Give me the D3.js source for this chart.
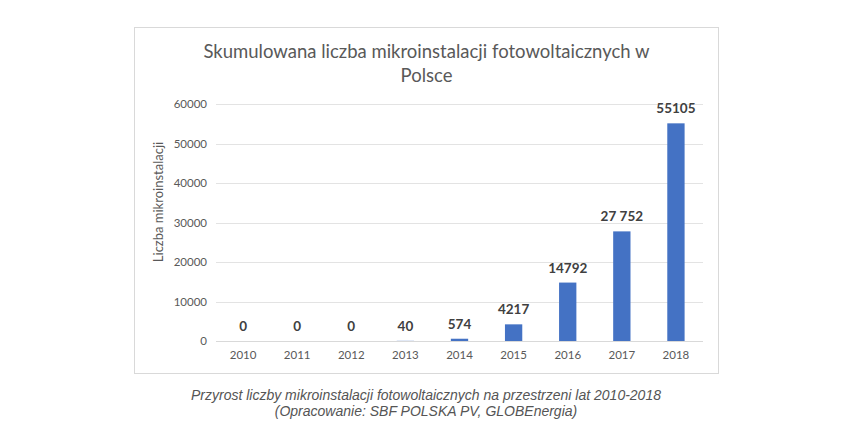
<!DOCTYPE html>
<html><head><meta charset="utf-8">
<script src="https://cdn.jsdelivr.net/npm/d3@7"></script>
<style>body{margin:0;background:#fff;}svg{display:block;}</style>
</head><body>
<svg id="c" width="852" height="447"></svg>
<script>
const years = ["2010","2011","2012","2013","2014","2015","2016","2017","2018"];
const values = [0,0,0,40,574,4217,14792,27752,55105];
const valueLabels = ["0","0","0","40","574","4217","14792","27 752","55105"];
const yTicks = [0,10000,20000,30000,40000,50000,60000];
const titleLines = ["Skumulowana liczba mikroinstalacji fotowoltaicznych w","Polsce"];
const yTitle = "Liczba mikroinstalacji";
const captionLines = ["Przyrost liczby mikroinstalacji fotowoltaicznych na przestrzeni lat 2010-2018","(Opracowanie: SBF POLSKA PV, GLOBEnergia)"];

const svg = d3.select("#c");
const F = "Lato, 'Open Sans', sans-serif";
svg.append("rect").attr("x",134.5).attr("y",27.5).attr("width",584).attr("height",346)
  .attr("fill","#fff").attr("stroke","#d9d9d9").attr("stroke-width",1);

const x = d3.scaleBand().domain(years).range([216,703]).paddingInner(0.68).paddingOuter(0.34);
const y = d3.scaleLinear().domain([0,60000]).range([341,104]);

// grid
svg.append("g").selectAll("line").data(yTicks).join("line")
  .attr("x1",216).attr("x2",703).attr("y1",d=>Math.round(y(d))+0.5).attr("y2",d=>Math.round(y(d))+0.5)
  .attr("stroke",d=>d===0?"#d9d9d9":"#e3e3e3").attr("stroke-width",1);

// y axis labels
const ya = svg.append("g").attr("transform","translate(207,0)")
  .call(d3.axisLeft(y).tickValues(yTicks).tickSize(0).tickPadding(0).tickFormat(d3.format("d")));
ya.select(".domain").remove();
ya.selectAll("text").attr("font-family",F).attr("font-size",11.5).attr("fill","#595959");

// x axis labels
const xa = svg.append("g").attr("transform","translate(0,350)")
  .call(d3.axisBottom(x).tickSize(0).tickPadding(0));
xa.select(".domain").remove();
xa.selectAll("text").attr("font-family",F).attr("font-size",11.5).attr("fill","#595959").attr("dy","0.8em");

// bars
svg.append("g").selectAll("rect").data(values).join("rect")
  .attr("x",(d,i)=>x(years[i])).attr("width",x.bandwidth())
  .attr("y",d=>y(d)).attr("height",d=>y(0)-y(d)).attr("fill","#4472c4");

// value labels
svg.append("g").selectAll("text").data(values).join("text")
  .attr("x",(d,i)=>x(years[i])+x.bandwidth()/2).attr("y",d=>y(d)-10)
  .attr("text-anchor","middle").attr("font-family",F).attr("font-size",13.5).attr("font-weight","bold")
  .attr("fill","#404040").text((d,i)=>valueLabels[i]);

// title
svg.append("g").selectAll("text").data(titleLines).join("text")
  .attr("x",426.5).attr("y",(d,i)=>58+i*23.5).attr("text-anchor","middle")
  .attr("font-family",F).attr("font-size",18.5).attr("fill","#595959").text(d=>d);

// y title
svg.append("text").attr("transform","translate(163,202) rotate(-90)").attr("text-anchor","middle")
  .attr("font-family",F).attr("font-size",13).attr("fill","#595959").text(yTitle);

// caption
svg.append("g").selectAll("text").data(captionLines).join("text")
  .attr("x",426).attr("y",(d,i)=>400+i*16).attr("text-anchor","middle")
  .attr("font-family","'Liberation Sans', Arial, sans-serif").attr("font-style","italic")
  .attr("font-size",14).attr("fill","#555").text(d=>d);
</script>
</body></html>
